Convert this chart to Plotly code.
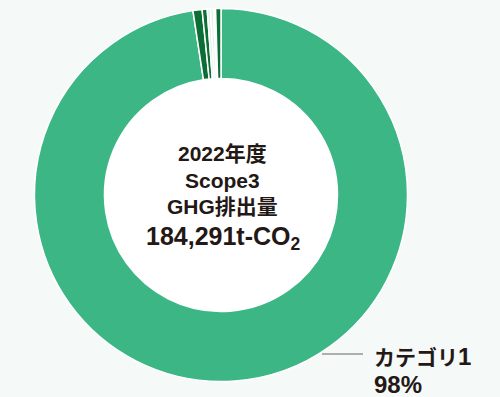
import plotly.graph_objects as go

# Scope3 emissions by category (t-CO2), clockwise from 12 o'clock
categories = ["カテゴリ1", "カテゴリ2", "カテゴリ3", "カテゴリ4", "カテゴリ5",
              "カテゴリ6", "カテゴリ7", "カテゴリ8"]
others = [1450, 800, 520, 480, 150, 180, 850]
total = 184291
values = [total - sum(others)] + others
slice_colors = ["#3DB686", "#0B6E35", "#0B6E35", "#E3F1E8", "#E3F1E8",
                "#F4F9F6", "#F4F9F6", "#0B6E35"]

center_lines = ["2022年度", "Scope3", "GHG排出量"]
total_main = "184,291t-CO"
total_sub = "2"
share_pct = round(values[0] / total * 100)

W, H = 500, 397
cx, cy, r_out, r_in = 221, 195, 186.5, 116.5

def px(x):
    return x / W

def py(y):
    return 1 - y / H

dom_x = [px(cx - r_out), px(cx + r_out)]
dom_y = [py(cy + r_out), py(cy - r_out)]
in_x = [px(cx - r_in), px(cx + r_in)]
in_y = [py(cy + r_in), py(cy - r_in)]

font_family = "Liberation Sans, Noto Sans CJK JP, sans-serif"
text_color = "#231815"

fig = go.Figure()

# white disc filling the donut hole
fig.add_trace(go.Pie(
    values=[1], labels=["hole"], marker=dict(colors=["#FFFFFF"], line=dict(width=0)),
    domain=dict(x=in_x, y=in_y), textinfo="none", hoverinfo="skip",
    showlegend=False, sort=False,
))

fig.add_trace(go.Pie(
    labels=categories, values=values, hole=r_in / r_out,
    marker=dict(colors=slice_colors, line=dict(color="#FFFFFF", width=1.5)),
    sort=False, direction="clockwise", rotation=0,
    domain=dict(x=dom_x, y=dom_y), textinfo="none", showlegend=False,
))


def label(text, x, y, size, anchor="center", h=24):
    return dict(text=text, x=px(x), y=py(y), xref="paper", yref="paper",
                showarrow=False, xanchor=anchor, yanchor="middle", height=h,
                font=dict(family=font_family, size=size, color=text_color))


ann = [label(f"<b>{t}</b>", 222, 153 + i * 26.5, 21) for i, t in enumerate(center_lines)]
ann.append(label(f"<b>{total_main}<sub>{total_sub}</sub></b>",
                 223, 238, 25, h=28))
ann.append(label(f"<b>カテゴリ<span style='font-size:24px'>1</span></b>",
                 372, 356, 21, anchor="left", h=24))
ann.append(label(f"<b>{share_pct}%</b>", 372, 384, 24, anchor="left", h=18))

fig.update_layout(
    width=W, height=H,
    margin=dict(l=0, r=0, t=0, b=0),
    paper_bgcolor="#F5F9F7", plot_bgcolor="#F5F9F7",
    annotations=ann,
    shapes=[dict(type="line", xref="paper", yref="paper",
                 x0=px(322), x1=px(363), y0=py(354), y1=py(354),
                 line=dict(color="#666666", width=1))],
)

fig.write_html("out.html")
